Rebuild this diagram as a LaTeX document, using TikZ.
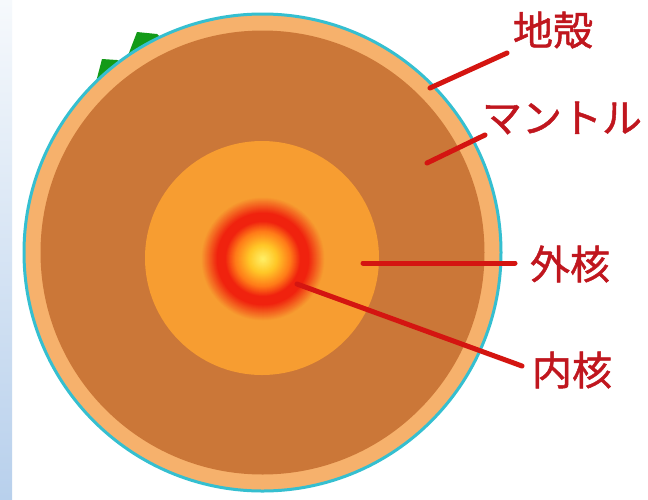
\documentclass[tikz,border=0pt]{standalone}
\usepackage{fontspec}
\newfontfamily\jpfont[FakeBold=1.2]{Noto Sans CJK JP}
\definecolor{stripTop}{HTML}{F6F9FC}
\definecolor{stripBot}{HTML}{B8D0EC}
\definecolor{rim}{HTML}{35BFD0}
\definecolor{crust}{HTML}{F6B16C}
\definecolor{mantle}{HTML}{CB7738}
\definecolor{outercore}{HTML}{F79D31}
\definecolor{coreRed}{HTML}{F0220E}
\definecolor{coreHot}{HTML}{FF7A18}
\definecolor{coreAmber}{HTML}{FFC828}
\definecolor{coreYellow}{HTML}{FFF26A}
\definecolor{land}{HTML}{139A18}
\definecolor{labelred}{HTML}{C0161E}
\definecolor{leadred}{HTML}{D41511}
\tikzset{
  label text/.style={text=labelred, inner sep=0pt, font=\jpfont\fontsize{40}{44}\selectfont},
  leader/.style={draw=leadred, line width=5pt, line cap=round},
}
\begin{document}
\begin{tikzpicture}[x=1pt,y=-1pt]
\useasboundingbox (0,0) rectangle (648,499);
\fill[white] (0,0) rectangle (648,499);
% pale blue strip down the left edge
\shade[top color=stripTop, bottom color=stripBot] (0,0) rectangle (12,499);

% continents poking above the surface
\fill[land] (96,82) -- (102,59) -- (117,60) -- (124,63) -- (112,84) -- cycle;
\fill[land] (127,58) -- (137,32) -- (157,34) -- (164,40) -- (140,62) -- cycle;

% crust with its thin rim
\fill[crust] (262.5,252.5) circle[radius=238];
\draw[rim, line width=3pt] (262.5,252.5) circle[radius=238.5];
% mantle
\fill[mantle] (262.5,252.5) circle[radius=222];
% outer core
\fill[outercore] (262,258) circle[radius=117];
% inner core: glowing radial gradient built from concentric discs
\foreach \r in {62,61.5,...,46} {
  \pgfmathtruncatemacro\p{(62-\r)/16*100}
  \fill[coreRed!\p!outercore] (263,259) circle[radius=\r];
}
\fill[coreRed] (263,259) circle[radius=45.5];
\foreach \r in {38,37.5,...,28} {
  \pgfmathtruncatemacro\p{(38-\r)/10*100}
  \fill[coreHot!\p!coreRed] (263,259) circle[radius=\r];
}
\foreach \r in {27.5,27,...,14} {
  \pgfmathtruncatemacro\p{(28-\r)/14*100}
  \fill[coreAmber!\p!coreHot] (263,259) circle[radius=\r];
}
\foreach \r in {13.5,13,...,0.5} {
  \pgfmathtruncatemacro\p{(14-\r)/14*100}
  \fill[coreYellow!\p!coreAmber] (263,259) circle[radius=\r];
}

% labels
\node[label text] (crustLbl)  at (553,30)  {地殻};
\node[label text] (mantleLbl) at (562,118) {マントル};
\node[label text] (outerLbl)  at (570,264) {外核};
\node[label text] (innerLbl)  at (572,370) {内核};

% leader lines
\coordinate (crustTip)  at (430,88);
\coordinate (crustEnd)  at (507,53);
\coordinate (mantleTip) at (427,163);
\coordinate (mantleEnd) at (485,135);
\coordinate (outerTip)  at (363,263);
\coordinate (outerEnd)  at (515,263);
\coordinate (innerTip)  at (297,284);
\coordinate (innerEnd)  at (522,366);
\draw[leader] (crustTip) -- (crustEnd);
\draw[leader] (mantleTip) -- (mantleEnd);
\draw[leader] (outerTip) -- (outerEnd);
\draw[leader] (innerTip) -- (innerEnd);
\end{tikzpicture}
\end{document}
